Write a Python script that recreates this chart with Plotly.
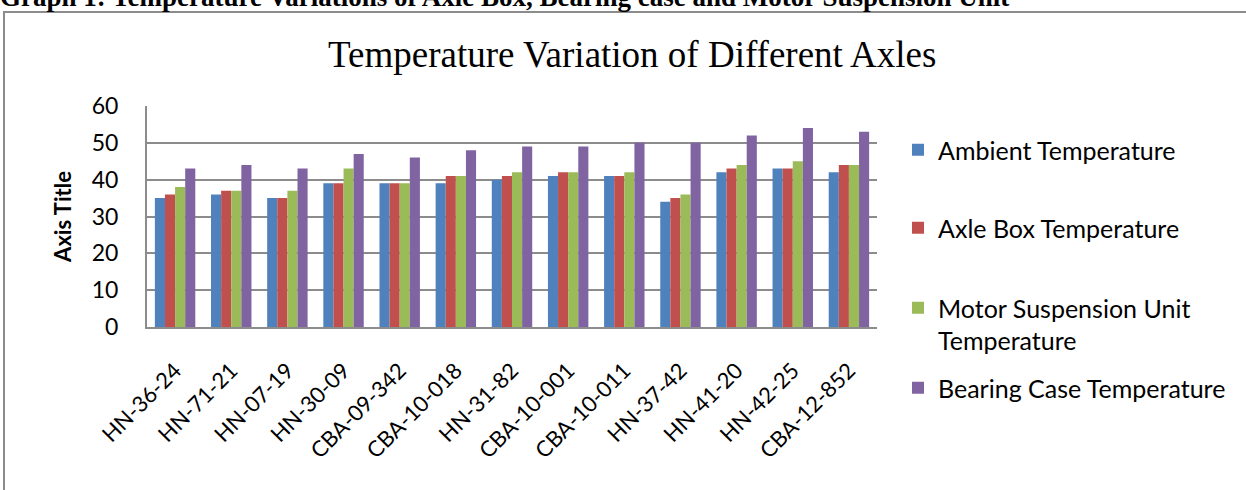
import plotly.graph_objects as go

categories = ["HN-36-24", "HN-71-21", "HN-07-19", "HN-30-09", "CBA-09-342", "CBA-10-018",
              "HN-31-82", "CBA-10-001", "CBA-10-011", "HN-37-42", "HN-41-20", "HN-42-25", "CBA-12-852"]
ambient = [35, 36, 35, 39, 39, 39, 40, 41, 41, 34, 42, 43, 42]
axle_box = [36, 37, 35, 39, 39, 41, 41, 42, 41, 35, 43, 43, 44]
motor_susp = [38, 37, 37, 43, 39, 41, 42, 42, 42, 36, 44, 45, 44]
bearing_case = [43, 44, 43, 47, 46, 48, 49, 49, 50, 50, 52, 54, 53]

series_names = ["Ambient Temperature", "Axle Box Temperature",
                "Motor Suspension Unit<br>Temperature", "Bearing Case Temperature"]
series_values = [ambient, axle_box, motor_susp, bearing_case]
colors = ["#4F81BD", "#C0504D", "#9BBB59", "#8064A2"]

W, H = 1246, 490
L, R, T, B = 147, 877, 106, 327
pw, ph = R - L, B - T

def px_x(x):
    return (x - L) / pw

def px_y(y):
    return (B - y) / ph

legend_names = ["legend", "legend2", "legend3", "legend4"]
legend_tops = [127, 205, 285, 365]

fig = go.Figure()
for name, vals, col, lg in zip(series_names, series_values, colors, legend_names):
    fig.add_trace(go.Bar(x=categories, y=vals, name=name, marker_color=col,
                         marker_line_width=0, legend=lg))

legend_font = dict(family="Lato, Open Sans, sans-serif", size=25, color="#000000")
layout_legends = {}
for lg, top in zip(legend_names, legend_tops):
    layout_legends[lg] = dict(x=px_x(898), y=px_y(top), xanchor="left", yanchor="top",
                              font=legend_font, bgcolor="rgba(0,0,0,0)", valign="top",
                              itemwidth=30)

fig.update_layout(
    width=W, height=H,
    margin=dict(l=L, r=W - R, t=T, b=H - B, autoexpand=False),
    paper_bgcolor="white", plot_bgcolor="white",
    barmode="group", bargap=0.28, bargroupgap=0.0,
    showlegend=True,
    **layout_legends,
)

fig.update_yaxes(range=[0, 60], dtick=10, showgrid=True, gridcolor="#8C8C8C", gridwidth=2,
                 showline=True, linecolor="#8C8C8C", linewidth=2, zeroline=False,
                 tickfont=dict(family="Lato, Open Sans, sans-serif", size=23, color="#000"),
                 ticks="", ticklabelstandoff=22,
                 title=dict(text="<b>Axis Title</b>", standoff=14,
                            font=dict(family="Lato, Open Sans, sans-serif", size=22, color="#000")))
fig.update_xaxes(showline=True, linecolor="#8C8C8C", linewidth=2, showgrid=False,
                 tickangle=-45, ticks="", ticklabelstandoff=20,
                 tickfont=dict(family="Lato, Open Sans, sans-serif", size=22, color="#000"))

# chart title
fig.add_annotation(text="Temperature Variation of Different Axles", xref="paper", yref="paper",
                   x=px_x(632), y=px_y(55), xanchor="center", yanchor="middle", showarrow=False,
                   font=dict(family="Liberation Serif, Times New Roman, serif", size=37, color="#000"))
# document caption (cut off at top)
fig.add_annotation(text="<b>Graph 1: Temperature Variations of Axle Box, Bearing case and Motor Suspension Unit</b>",
                   xref="paper", yref="paper", x=px_x(-2), y=px_y(-3), xanchor="left", yanchor="middle",
                   showarrow=False,
                   font=dict(family="Liberation Serif, Times New Roman, serif", size=27, color="#000"))
# outer chart frame
fig.add_shape(type="rect", xref="paper", yref="paper",
              x0=px_x(4), x1=px_x(1260), y0=px_y(12), y1=px_y(510),
              line=dict(color="#8C8C8C", width=2), fillcolor="rgba(0,0,0,0)", layer="below")

fig.write_html("out.html", config={"displayModeBar": False},
               post_script="document.body.style.margin='0';")
